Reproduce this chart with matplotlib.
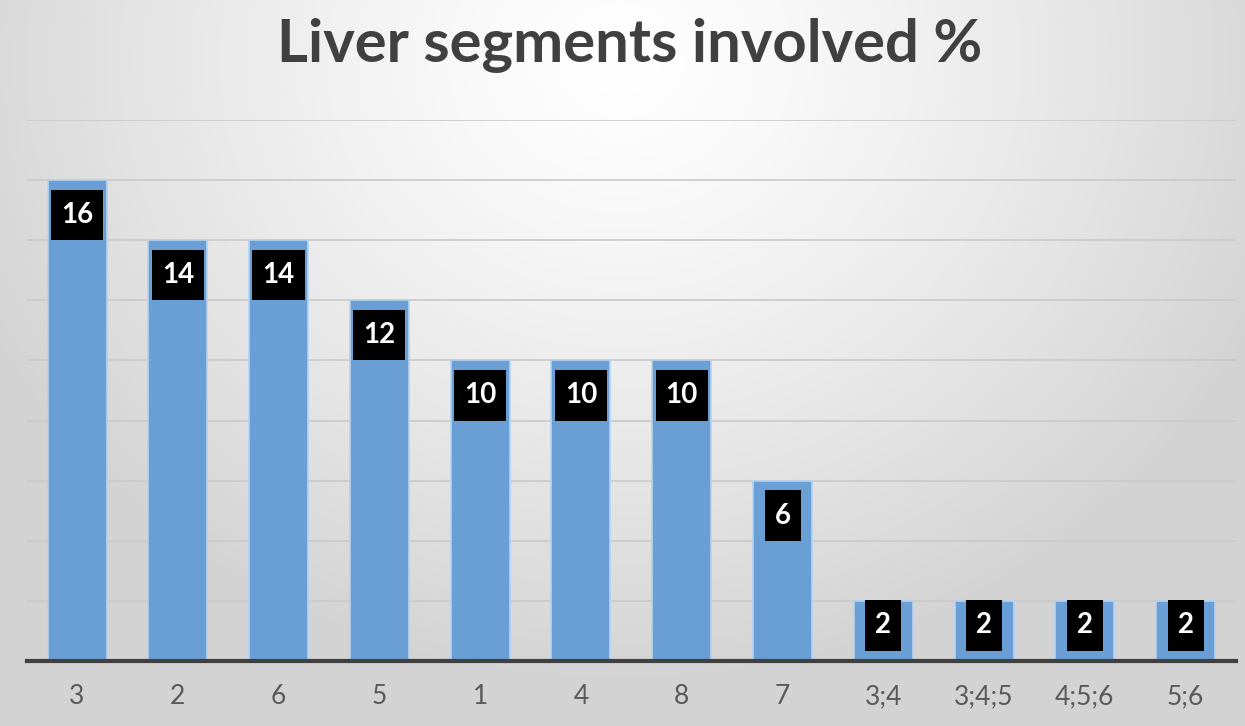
import numpy as np
import matplotlib
matplotlib.use("Agg")
import matplotlib.pyplot as plt
from matplotlib.patches import Rectangle

categories = ["3", "2", "6", "5", "1", "4", "8", "7", "3;4", "3;4;5", "4;5;6", "5;6"]
values = [16, 14, 14, 12, 10, 10, 10, 6, 2, 2, 2, 2]
title = "Liver segments involved %"

W, H = 1245, 726
fig = plt.figure(figsize=(W / 100, H / 100), dpi=100)

# radial background gradient
bg = fig.add_axes([0, 0, 1, 1], zorder=-10)
yy, xx = np.mgrid[0:H, 0:W]
d = np.sqrt(((xx - 620) / 700.0) ** 2 + ((yy - 60) / 620.0) ** 2)
d = np.clip(d, 0, 1)
shade = 1.0 - 0.17 * d ** 1.3
img = np.dstack([shade, shade, shade])
bg.imshow(img, aspect="auto", extent=[0, 1, 0, 1], origin="upper")
bg.axis("off")

ax = fig.add_axes([0.0214, 0.0895, 0.9714, 0.7452])
ax.patch.set_alpha(0)
x = np.arange(len(categories))
ax.bar(x, values, width=0.585, color="#6a9fd6", edgecolor="#b6d3ef", linewidth=1.2, zorder=3)
ax.set_xlim(-0.5, len(categories) - 0.5)
ax.set_ylim(0, 18)
ax.set_yticks(np.arange(2, 19, 2))
ax.yaxis.grid(True, color="#c9c9c9", linewidth=1.2, zorder=0)
ax.tick_params(axis="y", left=False, labelleft=False)
ax.tick_params(axis="x", bottom=False, labelsize=19, labelcolor="#595959", pad=13)
ax.set_xticks(x)
ax.set_xticklabels(categories, family="Lato")
for s in ["top", "right", "left"]:
    ax.spines[s].set_visible(False)
ax.spines["bottom"].set_color("#404040")
ax.spines["bottom"].set_linewidth(3)
ax.spines["bottom"].set_zorder(5)

texts = []
for xi, v in zip(x, values):
    bottom = max(v - 2.0, 0.35)
    top = bottom + 1.68
    t = ax.text(xi, (bottom + top) / 2, str(v), ha="center", va="center",
                color="white", fontsize=20, fontweight="bold", family="Lato", zorder=7)
    texts.append((t, xi, bottom, top))

fig.canvas.draw()
r = fig.canvas.get_renderer()
inv = ax.transData.inverted()
for t, xi, bottom, top in texts:
    ext = t.get_window_extent(renderer=r)
    x0 = inv.transform((ext.x0 - 10, 0))[0]
    x1 = inv.transform((ext.x1 + 10, 0))[0]
    ax.add_patch(Rectangle((x0, bottom), x1 - x0, top - bottom, facecolor="black",
                           edgecolor="none", zorder=6))

fig.text(0.506, 0.937, title, ha="center", va="center", fontsize=43,
         fontweight="bold", color="#404040", family="Lato")

fig.savefig("out.png", dpi=100)
